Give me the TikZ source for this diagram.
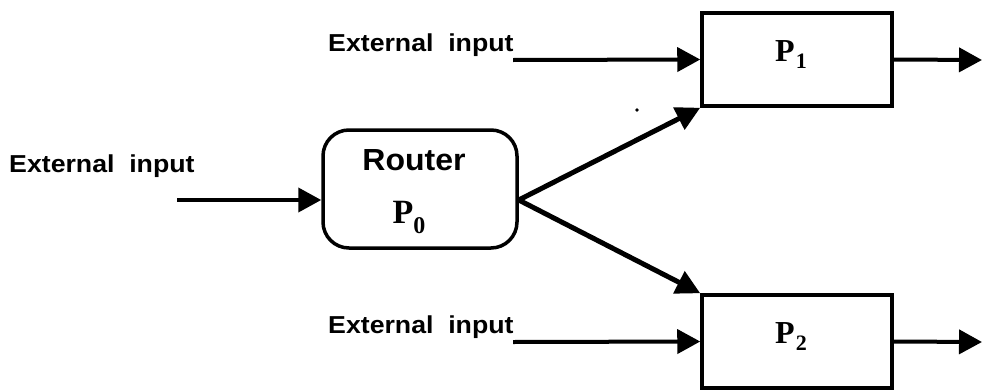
\documentclass[tikz,border=0pt]{standalone}
\usepackage{fontspec}
\setmainfont{Liberation Sans}[FakeStretch=1.05]
\newfontfamily\pfont{Liberation Serif}[BoldFont={* Bold}]
\newfontfamily\lblfont{Liberation Sans}[FakeStretch=1.09]
\usetikzlibrary{arrows.meta}
\tikzset{
  lbl/.style={inner sep=0pt, font=\lblfont\bfseries\fontsize{24.5}{26}\selectfont},
  conn/.style={line width=4pt, -{Triangle[length=23pt,width=24pt]}},
  branch/.style={line width=5pt, -{Triangle[length=24pt,width=24pt]}},
  procbox/.style={draw, line width=3.5pt, minimum width=190pt, minimum height=93pt, inner sep=0pt},
}
\newcommand{\Pbig}[1]{{\pfont\bfseries\fontsize{34}{36}\selectfont P\raisebox{-10pt}{\fontsize{24}{24}\selectfont #1}}}
\newcommand{\Psmall}[1]{{\pfont\bfseries\fontsize{32}{34}\selectfont P\kern1pt\raisebox{-7pt}{\fontsize{22}{24}\selectfont #1}}}
\begin{document}
\begin{tikzpicture}[x=1pt,y=-1pt]
\useasboundingbox (0,0) rectangle (982,391);
% router
\node[draw, line width=3.5pt, rounded corners=26pt, minimum width=194pt, minimum height=118pt, inner sep=0pt] (r) at (420,189) {};
\node[inner sep=0pt, anchor=base, font=\bfseries\fontsize{30.5}{32}\selectfont] (rt) at (414,170) {Router};
\node[inner sep=0pt, anchor=base] (rp) at (409,223) {\Pbig{0}};
% processors
\node[procbox] (p1) at (797,59.5) {};
\node[inner sep=0pt, anchor=base] (p1t) at (791,61) {\Psmall{1}};
\node[procbox] (p2) at (797,341.5) {};
\node[inner sep=0pt, anchor=base] (p2t) at (791,343) {\Psmall{2}};
% labels
\node[lbl, anchor=base west] (l0) at (9,172) {External\hspace{0.6em}input};
\node[lbl, anchor=base west] (l1) at (328,51) {External\hspace{0.6em}input};
\node[lbl, anchor=base west] (l2) at (328,333) {External\hspace{0.6em}input};
% free ends
\coordinate (a0) at (177,200);
\coordinate (a1) at (513,60);
\coordinate (a2) at (513,342);
\coordinate (o1) at (982,60);
\coordinate (o2) at (982,342);
% connectors
\draw[conn] (a0) -- ([yshift=-11pt]r.west);
\draw[conn] (a1) -- (p1.west);
\draw[conn] (a2) -- (p2.west);
\draw[conn] (p1.east) -- (o1);
\draw[conn] (p2.east) -- (o2);
\draw[branch] ([yshift=-11pt]r.east) -- (p1.south west);
\draw[branch] ([yshift=-11pt]r.east) -- (p2.north west);
% stray dot
\fill (637,110) circle (1.8);
\end{tikzpicture}
\end{document}
